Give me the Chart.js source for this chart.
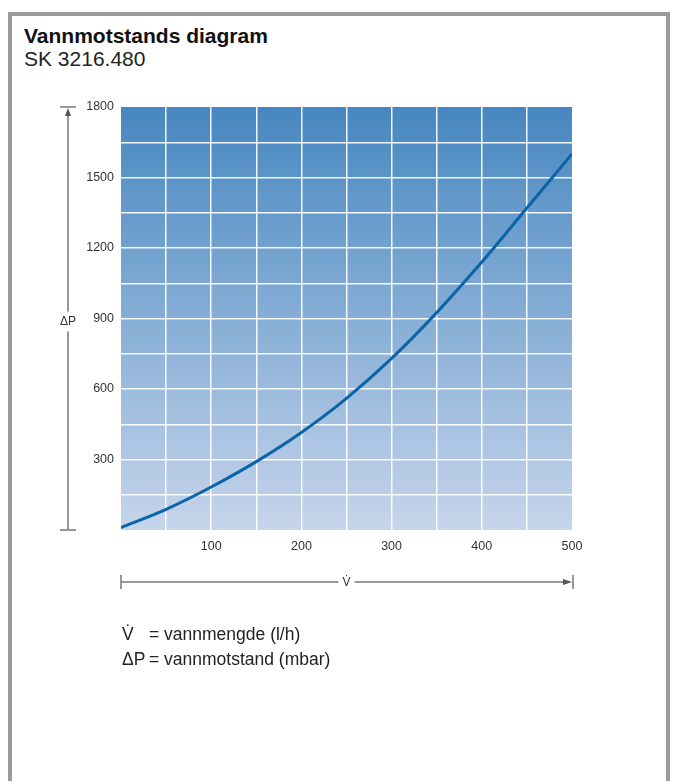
<!DOCTYPE html>
<html lang="no">
<head>
  <meta charset="UTF-8" />
  <title>Vannmotstands diagram</title>
  <script src="https://cdn.jsdelivr.net/npm/chart.js"></script>
  <style>
    body { margin: 0; background: #fff; font-family: "Liberation Sans", Arial, sans-serif; }
    #page { position: relative; width: 675px; height: 781px; overflow: hidden; }
    #frame { position: absolute; left: 8px; top: 12px; width: 654px; height: 800px;
             border: 4px solid #9b9b9b; border-bottom: none; }
    #title { position: absolute; left: 24px; top: 24px; font-size: 21px; font-weight: bold; color: #111; }
    #sub { position: absolute; left: 24px; top: 47px; font-size: 21px; color: #222; }
    #legend { position: absolute; left: 122px; top: 622px; font-size: 17.5px; color: #222; line-height: 25px; }
    #legend .k { display: inline-block; width: 27px; }
    canvas { position: absolute; left: 0; top: 0; }
  </style>
</head>
<body>
<div id="page">
  <div id="frame"></div>
  <div id="title">Vannmotstands diagram</div>
  <div id="sub">SK 3216.480</div>
  <canvas id="chart" width="675" height="781"></canvas>
  <div id="legend">
    <div><span class="k">V̇</span>= vannmengde (l/h)</div>
    <div><span class="k">ΔP</span>= vannmotstand (mbar)</div>
  </div>
</div>

<script>
  // values
  const flow = [0, 50, 100, 150, 200, 250, 300, 350, 400, 450, 500];        // l/h
  const pressure = [10, 88, 183, 291, 415, 560, 730, 925, 1140, 1370, 1600]; // mbar
  const xLabels = [100, 200, 300, 400, 500];
  const yLabels = [300, 600, 900, 1200, 1500, 1800];

  // gradient background + dimension arrows
  const decor = {
    id: "decor",
    beforeDraw(chart) {
      const { ctx, chartArea: a } = chart;
      const g = ctx.createLinearGradient(0, a.top, 0, a.bottom);
      g.addColorStop(0, "#4787c0");
      g.addColorStop(1, "#c6d5eb");
      ctx.save();
      ctx.fillStyle = g;
      ctx.fillRect(a.left, a.top, a.right - a.left, a.bottom - a.top);
      ctx.restore();
    },
    afterDraw(chart) {
      const { ctx, chartArea: a } = chart;
      ctx.save();
      ctx.strokeStyle = "#777";
      ctx.fillStyle = "#555";
      ctx.lineWidth = 1.5;

      // vertical ΔP arrow
      const vx = 68, mid = (a.top + a.bottom) / 2 + 3;
      ctx.beginPath();
      ctx.moveTo(vx - 8, a.top); ctx.lineTo(vx + 8, a.top);
      ctx.moveTo(vx - 8, a.bottom); ctx.lineTo(vx + 8, a.bottom);
      ctx.moveTo(vx, a.top + 6); ctx.lineTo(vx, mid - 10);
      ctx.moveTo(vx, mid + 10); ctx.lineTo(vx, a.bottom);
      ctx.stroke();
      ctx.beginPath();
      ctx.moveTo(vx, a.top + 1); ctx.lineTo(vx - 3, a.top + 9); ctx.lineTo(vx + 3, a.top + 9);
      ctx.closePath(); ctx.fill();

      // horizontal V arrow
      const hy = 582, hm = (a.left + a.right) / 2;
      ctx.beginPath();
      ctx.moveTo(a.left, hy - 7); ctx.lineTo(a.left, hy + 7);
      ctx.moveTo(a.right + 1, hy - 7); ctx.lineTo(a.right + 1, hy + 7);
      ctx.moveTo(a.left, hy); ctx.lineTo(hm - 8, hy);
      ctx.moveTo(hm + 8, hy); ctx.lineTo(a.right - 6, hy);
      ctx.stroke();
      ctx.beginPath();
      ctx.moveTo(a.right, hy); ctx.lineTo(a.right - 9, hy - 3); ctx.lineTo(a.right - 9, hy + 3);
      ctx.closePath(); ctx.fill();

      ctx.fillStyle = "#333";
      ctx.font = "12px 'Liberation Sans', Arial, sans-serif";
      ctx.textAlign = "center";
      ctx.textBaseline = "middle";
      ctx.fillText("ΔP", vx, mid);
      ctx.fillText("V̇", hm, hy + 1);
      ctx.restore();
    }
  };

  const edge = (c, min, max) => (c.tick && (c.tick.value === min || c.tick.value === max)) ? "rgba(0,0,0,0)" : "rgba(255,255,255,0.92)";

  new Chart(document.getElementById("chart"), {
    type: "line",
    data: {
      labels: flow,
      datasets: [{
        data: flow.map((x, i) => ({ x, y: pressure[i] })),
        borderColor: "#0b63a8",
        borderWidth: 3,
        pointRadius: 0,
        cubicInterpolationMode: "monotone",
        fill: false
      }]
    },
    options: {
      responsive: false,
      animation: false,
      events: [],
      layout: { padding: { left: 71, top: 107, right: 103, bottom: 221 } },
      plugins: { legend: { display: false }, tooltip: { enabled: false } },
      scales: {
        x: {
          type: "linear", min: 0, max: 500,
          afterFit: s => { s.height = 30; },
          border: { display: false },
          grid: { color: c => edge(c, 0, 500), lineWidth: 1.5, drawTicks: false },
          ticks: {
            stepSize: 50, padding: 9, color: "#333", autoSkip: false, maxRotation: 0,
            font: { family: "'Liberation Sans', Arial, sans-serif", size: 12.5 },
            callback: v => xLabels.includes(v) ? v : ""
          }
        },
        y: {
          min: 0, max: 1800,
          afterFit: s => { s.width = 50; },
          border: { display: false },
          grid: { color: c => edge(c, 0, 1800), lineWidth: 1.5, drawTicks: false },
          ticks: {
            stepSize: 150, padding: 7, color: "#333", autoSkip: false,
            font: { family: "'Liberation Sans', Arial, sans-serif", size: 12.5 },
            callback: v => yLabels.includes(v) ? v : ""
          }
        }
      }
    },
    plugins: [decor]
  });
</script>
</body>
</html>
